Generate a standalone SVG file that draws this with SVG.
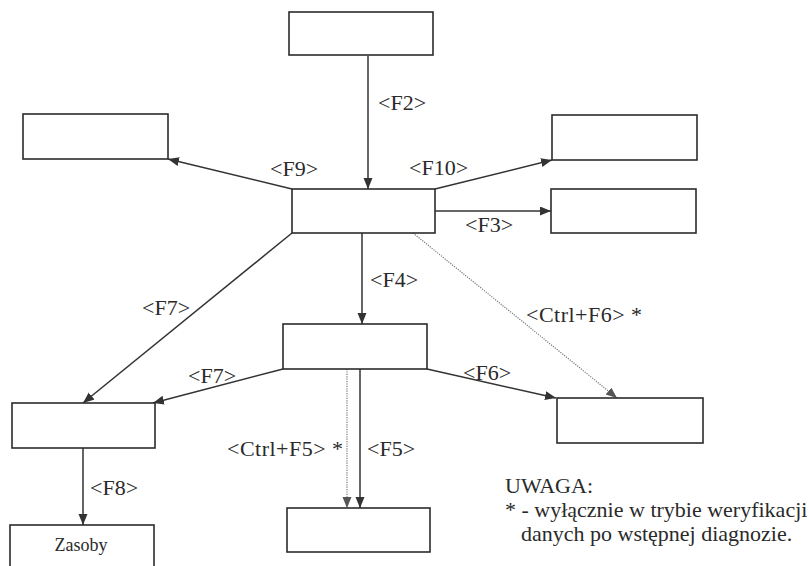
<svg xmlns="http://www.w3.org/2000/svg" width="809" height="566" viewBox="0 0 809 566">
<style>
.box{fill:#fff;stroke:#2b2b2b;stroke-width:1.6}
.ln{fill:none;stroke:#333;stroke-width:1.5}
.dot{fill:none;stroke:#777;stroke-width:1.2;stroke-dasharray:1.2,1.2}
text{font-family:"Liberation Serif","Times New Roman",serif;font-size:22px;fill:#2a2a2a}
.sm{font-size:18px}
</style>
<defs>
<marker id="ah" markerUnits="userSpaceOnUse" markerWidth="12" markerHeight="10" refX="11" refY="4.5" orient="auto">
<path d="M0,0 L11,4.5 L0,9 z" fill="#333"/>
</marker>
<marker id="ahd" markerUnits="userSpaceOnUse" markerWidth="12" markerHeight="10" refX="11" refY="4.5" orient="auto">
<path d="M0,0 L11,4.5 L0,9 z" fill="#555"/>
</marker>
</defs>
<rect width="809" height="566" fill="#fff"/>
<g id="connectors">
<line class="ln" x1="368" y1="56" x2="368" y2="189" marker-end="url(#ah)"/>
<line class="ln" x1="292" y1="189" x2="168" y2="159" marker-end="url(#ah)"/>
<line class="ln" x1="435" y1="189" x2="552" y2="160" marker-end="url(#ah)"/>
<line class="ln" x1="435" y1="211" x2="551" y2="211" marker-end="url(#ah)"/>
<line class="ln" x1="362" y1="233" x2="362" y2="324" marker-end="url(#ah)"/>
<line class="dot" x1="413" y1="233" x2="617" y2="398" marker-end="url(#ahd)"/>
<line class="ln" x1="292" y1="233" x2="83" y2="403" marker-end="url(#ah)"/>
<line class="ln" x1="283" y1="369" x2="153" y2="403" marker-end="url(#ah)"/>
<line class="ln" x1="427" y1="369" x2="556" y2="398" marker-end="url(#ah)"/>
<line class="dot" x1="347" y1="369" x2="347" y2="508" marker-end="url(#ahd)"/>
<line class="ln" x1="360" y1="369" x2="360" y2="508" marker-end="url(#ah)"/>
<line class="ln" x1="83" y1="448" x2="83" y2="525" marker-end="url(#ah)"/>
<text x="378" y="110">&lt;F2&gt;</text>
<text x="270" y="176">&lt;F9&gt;</text>
<text x="409" y="175">&lt;F10&gt;</text>
<text x="465" y="232">&lt;F3&gt;</text>
<text x="370" y="287">&lt;F4&gt;</text>
<text x="526" y="322" textLength="116">&lt;Ctrl+F6&gt; *</text>
<text x="142" y="315">&lt;F7&gt;</text>
<text x="188" y="383">&lt;F7&gt;</text>
<text x="463" y="380">&lt;F6&gt;</text>
<text x="227" y="456" textLength="116">&lt;Ctrl+F5&gt; *</text>
<text x="367" y="456">&lt;F5&gt;</text>
<text x="90" y="495">&lt;F8&gt;</text>
</g>
<g id="n-top"><rect class="box" x="289" y="12" width="144" height="43"/></g>
<g id="n-left-top"><rect class="box" x="23" y="114" width="145" height="45"/></g>
<g id="n-center"><rect class="box" x="292" y="189" width="143" height="44"/></g>
<g id="n-right-top"><rect class="box" x="552" y="115" width="145" height="45"/></g>
<g id="n-right-second"><rect class="box" x="551" y="189" width="145" height="44"/></g>
<g id="n-middle"><rect class="box" x="283" y="324" width="144" height="45"/></g>
<g id="n-left-mid"><rect class="box" x="12" y="403" width="143" height="45"/></g>
<g id="n-right-bottom"><rect class="box" x="557" y="398" width="146" height="45"/></g>
<g id="n-bottom"><rect class="box" x="287" y="508" width="143" height="44"/></g>
<g id="n-zasoby"><rect class="box" x="10" y="525" width="144" height="44"/><text class="sm" x="81" y="551" text-anchor="middle">Zasoby</text></g>
<g id="note">
<text x="505" y="493">UWAGA:</text>
<text x="505" y="517">* - wyłącznie w trybie weryfikacji</text>
<text x="521" y="541">danych po wstępnej diagnozie.</text>
</g>
</svg>
